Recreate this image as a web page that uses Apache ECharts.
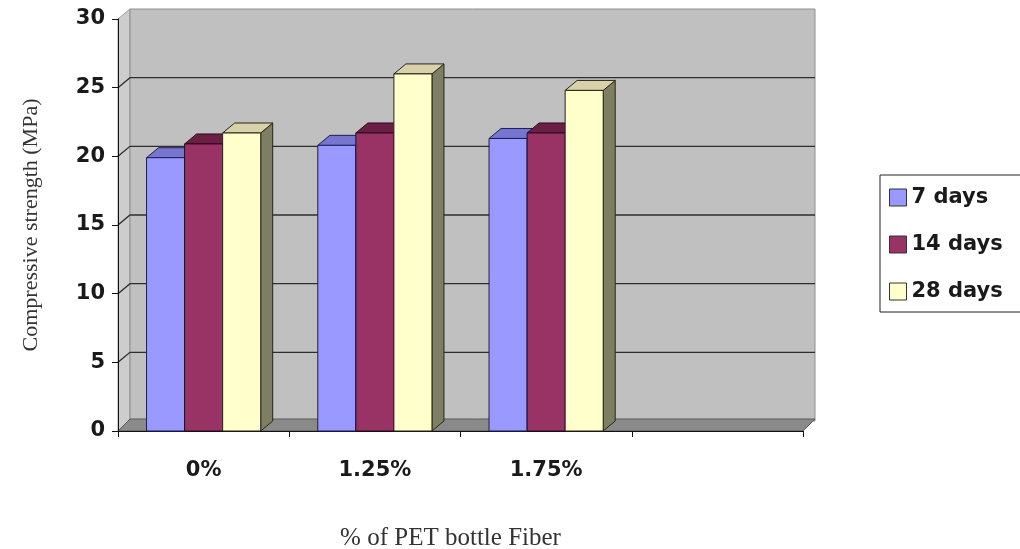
<!DOCTYPE html>
<html>
<head>
<meta charset="utf-8">
<script src="https://cdn.jsdelivr.net/npm/echarts@6/dist/echarts.min.js"></script>
<style>
  html, body { margin: 0; padding: 0; background: #fff; }
  #chart { width: 1020px; height: 549px; }
</style>
</head>
<body>
<div id="chart"></div>
<script>
// data
const categories = ['0%', '1.25%', '1.75%', ''];
const seriesNames = ['7 days', '14 days', '28 days'];
const days7 = [19.9, 20.8, 21.3];
const days14 = [20.9, 21.7, 21.7];
const days28 = [21.7, 26.0, 24.8];
const yTicks = [0, 5, 10, 15, 20, 25, 30];

// fake 3d depth offset
const DX = 12, DY = -10;

const faces = [
  { front: '#9999ff', top: '#7676cf', side: '#5c5ca6', line: '#1d1d5c' },
  { front: '#993366', top: '#6c1f45', side: '#5a1838', line: '#2b0b1c' },
  { front: '#ffffcc', top: '#d8d1a9', side: '#7e7e62', line: '#262619' }
];

const tickFont = { fontFamily: 'DejaVu Sans', fontWeight: 'bold', fontSize: 21, color: '#1a1a1a' };

function barRenderer(si) {
  return function (params, api) {
    const idx = api.value(0);
    const base = api.coord([idx, 0]);
    const top = api.coord([idx, api.value(1)]);
    const band = api.size([1, 0])[0];
    const w = band / 4.5; // gap width 150%
    const x0 = base[0] - 1.5 * w + si * w;
    const x1 = x0 + w;
    const y0 = base[1], y1 = top[1];
    const c = faces[si];
    const st = (fill) => ({ fill: fill, stroke: c.line, lineWidth: 1 });
    return {
      type: 'group',
      children: [
        { type: 'polygon', shape: { points: [[x1, y1], [x1 + DX, y1 + DY], [x1 + DX, y0 + DY], [x1, y0]] }, style: st(c.side) },
        { type: 'polygon', shape: { points: [[x0, y1], [x0 + DX, y1 + DY], [x1 + DX, y1 + DY], [x1, y1]] }, style: st(c.top) },
        { type: 'rect', shape: { x: x0, y: y1, width: w, height: y0 - y1 }, style: st(c.front) }
      ]
    };
  };
}

function wallRenderer(params, api) {
  const cs = params.coordSys;
  const L = cs.x, T = cs.y, R = cs.x + cs.width, B = cs.y + cs.height;
  const kids = [
    { type: 'polygon', shape: { points: [[L, T], [L + DX, T + DY], [L + DX, B + DY], [L, B]] },
      style: { fill: '#cdcdcd', stroke: '#9a9a9a', lineWidth: 1 } },
    { type: 'rect', shape: { x: L + DX, y: T + DY, width: cs.width, height: cs.height },
      style: { fill: '#c0c0c0', stroke: '#8e8e8e', lineWidth: 1 } }
  ];
  yTicks.forEach(function (v) {
    if (v === 0 || v === yTicks[yTicks.length - 1]) return;
    const y = api.coord([0, v])[1];
    kids.push({ type: 'polyline', shape: { points: [[L, y], [L + DX, y + DY], [R + DX, y + DY]] },
      style: { stroke: '#2e2e2e', lineWidth: 1.3, fill: null } });
  });
  kids.push({ type: 'polygon', shape: { points: [[L, B], [L + DX, B - 12], [R + DX, B - 12], [R, B]] },
    style: { fill: '#8a8a8a', stroke: '#5a5a5a', lineWidth: 1 } });
  return { type: 'group', children: kids };
}

const values = [days7, days14, days28];
const series = [{
  type: 'custom',
  name: 'wall',
  z: 1,
  silent: true,
  renderItem: wallRenderer,
  data: [[0, 0]]
}];
values.forEach(function (arr, si) {
  series.push({
    type: 'custom',
    name: seriesNames[si],
    z: 4,
    renderItem: barRenderer(si),
    itemStyle: { color: faces[si].front, borderColor: faces[si].line, borderWidth: 1 },
    data: arr.map(function (v, i) { return [i, v]; })
  });
});

const chart = echarts.init(document.getElementById('chart'));
chart.setOption({
  animation: false,
  backgroundColor: '#fff',
  grid: { left: 118, right: 217, top: 19, bottom: 118, containLabel: false, outerBoundsMode: 'none' },
  legend: {
    data: seriesNames,
    orient: 'vertical',
    left: 880,
    top: 175,
    icon: 'rect',
    itemWidth: 17,
    itemHeight: 17,
    itemGap: 26,
    padding: [12, 20, 10, 9],
    borderColor: '#222',
    borderWidth: 1,
    itemStyle: { borderColor: '#333', borderWidth: 1 },
    textStyle: tickFont
  },
  xAxis: {
    type: 'category',
    data: categories,
    z: 3,
    name: '% of PET bottle Fiber',
    nameLocation: 'middle',
    nameGap: 95,
    nameTextStyle: { fontFamily: 'Liberation Serif', fontSize: 25, color: '#333', padding: [0, 20, 0, 0] },
    axisLine: { lineStyle: { color: '#111', width: 1 } },
    axisTick: { show: true, length: 6, lineStyle: { color: '#111' } },
    axisLabel: Object.assign({ margin: 29 }, tickFont),
    splitLine: { show: false }
  },
  yAxis: {
    type: 'value',
    min: 0,
    max: 30,
    interval: 5,
    z: 3,
    name: 'Compressive strength (MPa)',
    nameLocation: 'middle',
    nameGap: 76,
    nameTextStyle: { fontFamily: 'Liberation Serif', fontSize: 22, color: '#333' },
    axisLine: { show: true, lineStyle: { color: '#111', width: 1 } },
    axisTick: { show: true, length: 6, lineStyle: { color: '#111' } },
    axisLabel: Object.assign({ margin: 13 }, tickFont),
    splitLine: { show: false }
  },
  series: series
});
</script>
</body>
</html>
